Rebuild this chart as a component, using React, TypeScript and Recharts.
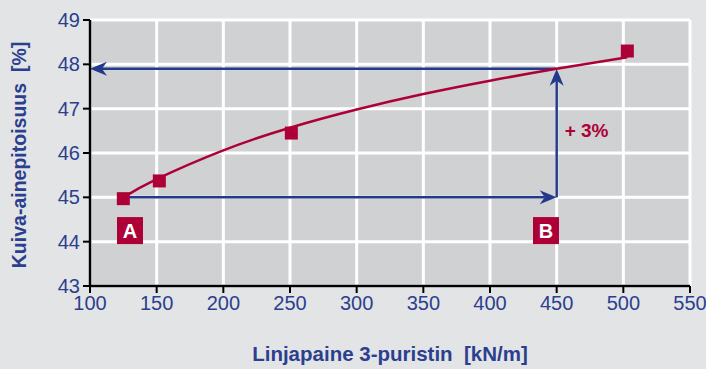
import React from 'react';
import {
  ComposedChart,
  Line,
  Scatter,
  XAxis,
  YAxis,
  CartesianGrid,
  ReferenceLine,
  ReferenceDot,
} from 'recharts';

// measured points (red squares)
const measuredX = [125, 152, 251, 503];
const measuredY = [44.97, 45.37, 46.45, 48.3];

// fitted curve
const fitX = [125, 150, 200, 250, 300, 350, 400, 450, 503];
const fitY = [45.0, 45.41, 46.06, 46.57, 46.98, 47.33, 47.63, 47.9, 48.16];

const xTicks = [100, 150, 200, 250, 300, 350, 400, 450, 500, 550];
const yTicks = [43, 44, 45, 46, 47, 48, 49];

// arrows: [x1, y1, x2, y2]
const arrows = [
  [125, 45, 450, 45],
  [450, 45, 450, 47.9],
  [450, 47.9, 100, 47.9],
];

const markers = [
  { label: 'A', x: 130, y: 44.25 },
  { label: 'B', x: 442, y: 44.25 },
];
const increaseText = '+ 3%';

const RED = '#ad0036';
const BLUE = '#23398c';
const TEXT_BLUE = '#2b3f8f';
const FONT = "'Liberation Sans Narrow', 'Arial Narrow', 'Liberation Sans', sans-serif";

const measured = measuredX.map((x, i) => ({ x, y: measuredY[i] }));
const fit = fitX.map((x, i) => ({ x, y: fitY[i] }));

const ArrowShape = (props: any) => {
  const { x1, y1, x2, y2 } = props;
  const a = Math.atan2(y2 - y1, x2 - x1);
  const c = Math.cos(a);
  const s = Math.sin(a);
  const L = 17;
  const W = 7;
  const bx = x2 - L * c;
  const by = y2 - L * s;
  const nx = x2 - L * 0.7 * c;
  const ny = y2 - L * 0.7 * s;
  const pts = [
    [x2, y2],
    [bx - W * s, by + W * c],
    [nx, ny],
    [bx + W * s, by - W * c],
  ]
    .map((p) => p.join(','))
    .join(' ');
  return (
    <g>
      <line x1={x1} y1={y1} x2={nx} y2={ny} stroke={BLUE} strokeWidth={2.5} />
      <polygon points={pts} fill={BLUE} />
    </g>
  );
};

const BoxLabel = (text: string) => (props: any) => {
  const { cx, cy } = props;
  return (
    <g>
      <rect x={cx - 13} y={cy - 13.5} width={26} height={27} fill={RED} />
      <text
        x={cx}
        y={cy + 7}
        textAnchor="middle"
        fill="#fff"
        fontFamily={FONT}
        fontWeight="bold"
        fontSize={20}
      >
        {text}
      </text>
    </g>
  );
};

const PlusText = (props: any) => (
  <text
    x={props.cx}
    y={props.cy + 6.5}
    fill={RED}
    fontFamily={FONT}
    fontWeight="bold"
    fontSize={19}
  >
    {increaseText}
  </text>
);

const Square = (props: any) => (
  <rect x={props.cx - 6.5} y={props.cy - 6.5} width={13} height={13} fill={RED} />
);

export default function App() {
  return (
    <div
      style={{
        position: 'fixed',
        left: 0,
        top: 0,
        width: 706,
        height: 369,
        background: '#e3e4e6',
      }}
    >
      <ComposedChart
        width={706}
        height={369}
        margin={{ top: 20, right: 16, bottom: 0, left: 0 }}
      >
        <CartesianGrid fill="#d0d1d3" fillOpacity={1} stroke="#ffffff" strokeWidth={3} />
        <XAxis
          type="number"
          dataKey="x"
          domain={[100, 550]}
          ticks={xTicks}
          height={83}
          tickSize={7}
          tickMargin={3}
          axisLine={{ stroke: '#000', strokeWidth: 2.5 }}
          tickLine={{ stroke: '#000', strokeWidth: 2 }}
          tick={{ fill: TEXT_BLUE, fontSize: 20, fontFamily: FONT }}
          label={{
            content: () => (
              <text
                x={390}
                y={361}
                textAnchor="middle"
                fill={TEXT_BLUE}
                fontFamily={FONT}
                fontWeight="bold"
                fontSize={20.5}
              >
                {'Linjapaine 3-puristin\u00a0\u00a0[kN/m]'}
              </text>
            ),
          }}
        />
        <YAxis
          type="number"
          domain={[43, 49]}
          ticks={yTicks}
          width={90}
          tickSize={7}
          tickMargin={3}
          axisLine={{ stroke: '#000', strokeWidth: 2.5 }}
          tickLine={{ stroke: '#000', strokeWidth: 2 }}
          tick={{ fill: TEXT_BLUE, fontSize: 20, fontFamily: FONT }}
          label={{
            content: () => (
              <text
                x={26}
                y={155}
                transform="rotate(-90 26 155)"
                textAnchor="middle"
                fill={TEXT_BLUE}
                fontFamily={FONT}
                fontWeight="bold"
                fontSize={19.5}
              >
                {'Kuiva-ainepitoisuus\u00a0\u00a0[%]'}
              </text>
            ),
          }}
        />
        {arrows.map((a, i) => (
          <ReferenceLine
            key={i}
            segment={[
              { x: a[0], y: a[1] },
              { x: a[2], y: a[3] },
            ]}
            ifOverflow="visible"
            shape={ArrowShape}
          />
        ))}
        <Line
          data={fit}
          dataKey="y"
          type="natural"
          stroke={RED}
          strokeWidth={2.5}
          dot={false}
          isAnimationActive={false}
        />
        <Scatter data={measured} dataKey="y" shape={Square} isAnimationActive={false} />
        {markers.map((m) => (
          <ReferenceDot key={m.label} x={m.x} y={m.y} shape={BoxLabel(m.label)} ifOverflow="visible" />
        ))}
        <ReferenceDot x={456} y={46.5} shape={PlusText} ifOverflow="visible" />
      </ComposedChart>
    </div>
  );
}
